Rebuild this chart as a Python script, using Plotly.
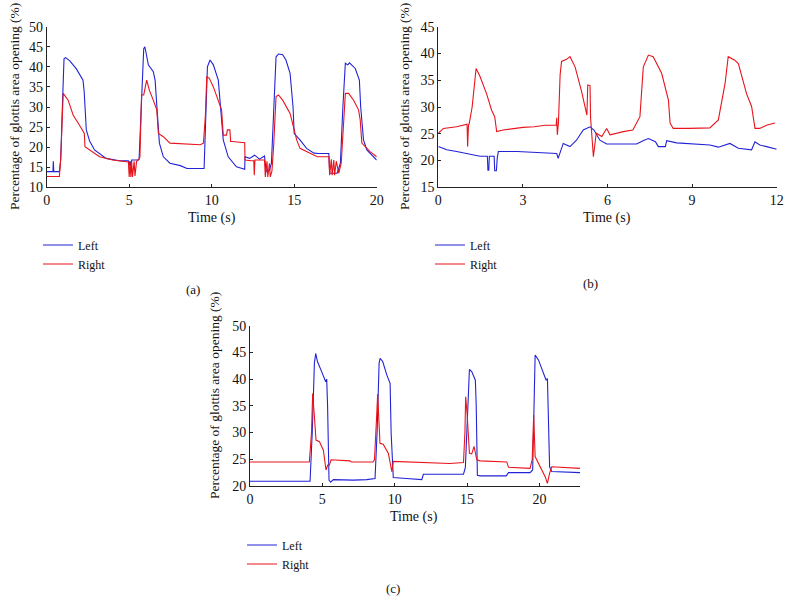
import plotly.graph_objects as go

# ---------------- data ----------------
a_left_t = [
    0.00, 0.38, 0.40, 0.43, 0.77, 0.85, 0.95, 1.05, 1.15, 1.40,
    1.80, 2.20, 2.27, 2.40, 2.60, 2.90, 3.60, 4.40, 4.95, 5.00,
    5.05, 5.10, 5.15, 5.50, 5.60, 5.75, 5.88, 5.95, 6.05, 6.16,
    6.46, 6.57, 6.68, 6.83, 7.07, 7.47, 8.10, 8.50, 9.54, 9.62,
    9.74, 9.90, 10.10, 10.40, 10.55, 10.70, 11.00, 11.50, 12.00, 12.02,
    12.30, 12.60, 12.90, 13.20, 13.30, 13.50, 13.62, 13.75, 13.90, 14.05,
    14.30, 14.50, 14.75, 14.93, 15.00, 15.35, 15.75, 16.20, 16.50, 17.10,
    17.15, 17.60, 17.80, 17.95, 18.10, 18.25, 18.35, 18.70, 18.95, 19.03,
    19.20, 19.40, 19.80, 20.00]
a_left_v = [
    13.9, 13.9, 16.5, 13.9, 13.9, 17.0, 30.0, 42.0, 42.3, 41.5,
    39.5, 36.7, 34.0, 24.3, 21.5, 19.3, 17.2, 16.6, 16.6, 15.5,
    16.5, 15.2, 16.8, 16.8, 17.0, 30.0, 44.5, 45.0, 43.0, 40.5,
    38.8, 36.7, 30.0, 21.0, 17.6, 16.0, 15.4, 14.7, 14.7, 25.0,
    40.0, 41.7, 40.5, 36.7, 30.0, 21.8, 17.6, 15.1, 14.5, 17.6,
    17.2, 18.0, 17.0, 17.8, 14.0, 14.2, 16.0, 30.0, 42.5, 43.2,
    43.0, 41.7, 38.4, 30.0, 23.4, 21.8, 19.7, 18.5, 18.4, 18.4,
    13.5, 13.5, 16.0, 30.0, 40.9, 40.5, 41.0, 39.6, 36.7, 30.0,
    21.8, 19.3, 17.6, 16.8]

a_right_t = [
    0.00, 0.77, 0.85, 1.00, 1.30, 1.60, 2.10, 2.28, 2.32, 2.55,
    3.20, 4.00, 4.95, 5.00, 5.05, 5.10, 5.15, 5.20, 5.30, 5.35,
    5.45, 5.55, 5.65, 5.75, 5.88, 6.06, 6.22, 6.46, 6.67, 6.77,
    7.07, 7.47, 8.10, 9.30, 9.50, 9.62, 9.70, 9.85, 10.10, 10.40,
    10.60, 10.70, 10.90, 10.95, 11.10, 11.15, 11.25, 12.00, 12.02, 12.40,
    12.55, 12.58, 12.62, 13.20, 13.25, 13.35, 13.40, 13.50, 13.55, 13.65,
    13.75, 13.90, 14.05, 14.30, 14.75, 14.95, 15.15, 15.35, 16.00, 16.40,
    17.10, 17.15, 17.25, 17.30, 17.40, 17.45, 17.55, 17.70, 17.85, 18.10,
    18.30, 18.60, 18.90, 19.00, 19.10, 19.30, 19.60, 20.00]
a_right_v = [
    12.7, 12.7, 17.0, 33.4, 31.7, 28.0, 24.7, 23.4, 20.1, 19.5,
    17.6, 16.8, 16.3, 12.6, 16.3, 12.6, 16.5, 12.6, 16.5, 12.8,
    16.5, 16.8, 17.5, 33.0, 33.0, 36.7, 34.2, 31.7, 29.3, 23.4,
    22.6, 21.0, 20.8, 20.6, 21.0, 28.0, 37.5, 37.2, 35.0, 31.7,
    29.3, 23.0, 23.0, 24.3, 24.3, 21.4, 21.4, 21.1, 16.8, 16.6,
    16.6, 13.0, 16.8, 16.8, 12.6, 16.5, 12.6, 16.0, 12.6, 14.0,
    20.0, 32.6, 33.0, 31.7, 28.4, 25.1, 21.8, 19.7, 18.5, 17.6,
    17.6, 13.0, 17.0, 13.0, 16.8, 13.0, 16.5, 13.5, 16.0, 33.4,
    33.4, 31.7, 29.3, 26.8, 21.0, 20.1, 18.9, 17.6]

b_left_t = [
    0.00, 0.30, 0.65, 1.12, 1.48, 1.74, 1.76, 1.79, 1.81, 1.90,
    1.98, 2.00, 2.06, 2.09, 2.13, 2.80, 3.60, 4.20, 4.25, 4.43,
    4.67, 4.90, 5.14, 5.38, 5.52, 5.73, 5.97, 7.03, 7.30, 7.45,
    7.70, 7.80, 8.05, 8.10, 8.45, 8.92, 9.63, 9.93, 10.34, 10.64,
    11.11, 11.23, 11.40, 11.64, 12.00]
b_left_v = [
    22.6, 22.0, 21.7, 21.2, 20.8, 20.8, 18.2, 18.2, 20.8, 20.8,
    20.8, 18.1, 18.1, 20.5, 21.7, 21.7, 21.5, 21.3, 20.4, 23.2,
    22.6, 23.8, 25.7, 26.3, 25.7, 23.8, 23.1, 23.1, 23.8, 24.1,
    23.5, 22.6, 22.6, 23.7, 23.3, 23.1, 22.9, 22.5, 23.2, 22.3,
    22.0, 23.5, 22.9, 22.6, 22.1]

b_right_t = [
    0.00, 0.18, 0.65, 0.95, 1.02, 1.04, 1.07, 1.10, 1.20, 1.34,
    1.48, 1.71, 1.89, 2.00, 2.07, 2.30, 2.60, 3.00, 3.40, 3.80,
    4.08, 4.18, 4.20, 4.22, 4.26, 4.32, 4.37, 4.55, 4.67, 4.85,
    5.08, 5.24, 5.27, 5.30, 5.38, 5.40, 5.50, 5.60, 5.80, 5.97,
    6.09, 6.56, 6.90, 7.15, 7.27, 7.45, 7.62, 7.92, 8.16, 8.22,
    8.33, 8.90, 9.63, 9.93, 10.17, 10.28, 10.50, 10.64, 10.76, 10.93,
    11.11, 11.23, 11.40, 11.64, 11.94]
b_right_v = [
    25.1, 26.0, 26.3, 26.6, 26.8, 22.6, 26.6, 27.0, 30.0, 37.2,
    35.7, 32.5, 29.4, 28.2, 25.4, 25.7, 25.9, 26.2, 26.3, 26.6,
    26.6, 26.6, 28.0, 24.8, 27.0, 36.0, 38.5, 38.9, 39.4, 37.5,
    32.9, 28.8, 28.5, 34.1, 34.0, 28.0, 20.7, 25.1, 24.5, 26.0,
    24.8, 25.4, 25.7, 28.2, 37.5, 39.7, 39.4, 36.3, 31.3, 27.0,
    26.0, 26.0, 26.1, 27.6, 34.4, 39.4, 38.8, 38.1, 35.7, 32.5,
    30.1, 26.0, 26.0, 26.6, 27.0]

c_left_t = [
    0.00, 4.15, 4.30, 4.45, 4.54, 4.66, 4.95, 5.23, 5.30, 5.36,
    5.46, 5.57, 5.76, 7.14, 8.06, 8.64, 8.78, 8.92, 8.99, 9.17,
    9.45, 9.63, 9.68, 9.75, 9.90, 10.80, 11.87, 11.98, 14.75, 14.88,
    15.00, 15.16, 15.32, 15.48, 15.57, 15.63, 15.71, 15.90, 17.70, 17.86,
    19.35, 19.53, 19.62, 19.70, 19.93, 20.28, 20.46, 20.55, 20.62, 20.70,
    20.85, 22.80]
c_left_v = [
    20.9, 20.9, 30.0, 43.0, 44.8, 43.3, 41.4, 39.5, 40.0, 35.0,
    21.1, 20.7, 21.2, 21.1, 21.2, 21.4, 30.0, 43.0, 43.9, 43.3,
    40.8, 39.5, 39.2, 30.0, 21.6, 21.4, 21.2, 22.2, 22.2, 23.5,
    32.0, 41.8, 41.4, 40.1, 39.8, 35.0, 22.0, 21.9, 21.9, 22.5,
    22.5, 23.0, 35.0, 44.5, 43.6, 41.1, 39.8, 40.1, 30.0, 23.6,
    22.7, 22.5]

c_right_t = [
    0.00, 4.10, 4.25, 4.33, 4.45, 4.56, 4.80, 5.07, 5.25, 5.37,
    5.48, 5.60, 6.90, 7.00, 8.50, 8.60, 8.75, 8.82, 8.98, 9.20,
    9.56, 9.80, 9.90, 10.80, 11.87, 13.80, 14.75, 14.85, 14.90, 15.00,
    15.16, 15.32, 15.48, 15.67, 15.90, 17.74, 17.86, 19.35, 19.50, 19.60,
    19.70, 20.05, 20.40, 20.55, 20.70, 20.85, 21.65, 22.80]
c_right_v = [
    24.5, 24.5, 30.0, 37.3, 33.0, 28.6, 28.3, 26.7, 23.0, 23.9,
    23.9, 24.9, 24.7, 24.5, 24.5, 24.9, 33.0, 37.2, 28.0, 27.8,
    26.1, 22.7, 24.6, 24.5, 24.4, 24.2, 24.4, 30.0, 36.7, 33.5,
    26.1, 26.0, 27.4, 24.9, 24.7, 24.5, 23.5, 23.3, 25.0, 33.3,
    25.5, 23.6, 21.7, 20.5, 22.4, 23.6, 23.5, 23.3]

series_names = ["Left", "Right"]
panel_labels = ["(a)", "(b)", "(c)"]
x_title = "Time (s)"
y_title = "Percentage of glottis area opening (%)"

a_xticks = [0, 5, 10, 15, 20]
a_yticks = [10, 15, 20, 25, 30, 35, 40, 45, 50]
b_xticks = [0, 3, 6, 9, 12]
b_yticks = [15, 20, 25, 30, 35, 40, 45]
c_xticks = [0, 5, 10, 15, 20]
c_yticks = [20, 25, 30, 35, 40, 45, 50]

# ---------------- styling / layout ----------------
BLUE = "#2222d6"
RED = "#e8141c"
FONT = "Liberation Serif"
W, H = 792, 614

def px_x(p):
    return p / W

def px_y(p):
    return 1 - p / H

fig = go.Figure()

panels = [
    ("x", "y", "legend", a_left_t, a_left_v, a_right_t, a_right_v),
    ("x2", "y2", "legend2", b_left_t, b_left_v, b_right_t, b_right_v),
    ("x3", "y3", "legend3", c_left_t, c_left_v, c_right_t, c_right_v),
]
for xa, ya, lg, lt, lv, rt, rv in panels:
    fig.add_trace(go.Scatter(x=lt, y=lv, mode="lines", name=series_names[0],
                             line=dict(color=BLUE, width=1.1), xaxis=xa, yaxis=ya, legend=lg))
    fig.add_trace(go.Scatter(x=rt, y=rv, mode="lines", name=series_names[1],
                             line=dict(color=RED, width=1.1), xaxis=xa, yaxis=ya, legend=lg))

axis_common = dict(showline=True, linecolor="#222222", linewidth=1, ticks="inside",
                   ticklen=3, tickcolor="#222222", showgrid=False, zeroline=False,
                   automargin=False,
                   tickfont=dict(family=FONT, size=14, color="#111111"), mirror=False)

# pixel boxes of plot areas
boxes = {
    "a": (46.7, 376.7, 26.7, 187.3),
    "b": (438.3, 776.7, 26.7, 187.3),
    "c": (250.0, 580.0, 325.7, 486.0),
}

def dom(box):
    x0, x1, y0, y1 = box
    return [px_x(x0), px_x(x1)], [px_y(y1), px_y(y0)]

adx, ady = dom(boxes["a"])
bdx, bdy = dom(boxes["b"])
cdx, cdy = dom(boxes["c"])

fig.update_layout(
    template="none",
    width=W, height=H,
    margin=dict(l=0, r=0, t=0, b=0, autoexpand=False),
    paper_bgcolor="white", plot_bgcolor="white",
    font=dict(family=FONT, size=13, color="#111111"),
    xaxis=dict(domain=adx, range=[0, 20], tickvals=a_xticks, anchor="y", **axis_common),
    yaxis=dict(domain=ady, range=[10, 50], tickvals=a_yticks, anchor="x", **axis_common),
    xaxis2=dict(domain=bdx, range=[0, 12], tickvals=b_xticks, anchor="y2", **axis_common),
    yaxis2=dict(domain=bdy, range=[15, 45], tickvals=b_yticks, anchor="x2", **axis_common),
    xaxis3=dict(domain=cdx, range=[0, 22.8], tickvals=c_xticks, anchor="y3", **axis_common),
    yaxis3=dict(domain=cdy, range=[20, 50], tickvals=c_yticks, anchor="x3", **axis_common),
)

leg_common = dict(xanchor="left", yanchor="top", bgcolor="rgba(0,0,0,0)",
                  font=dict(family=FONT, size=12, color="#111111"),
                  tracegroupgap=0, itemwidth=30, borderwidth=0)
fig.update_layout(
    legend=dict(x=px_x(38), y=px_y(230.5), **leg_common),
    legend2=dict(x=px_x(430), y=px_y(230.5), **leg_common),
    legend3=dict(x=px_x(242), y=px_y(530.5), **leg_common),
    showlegend=True,
)

annotations = []
# y titles
for cx, cy in [(15, 107), (405, 107), (215, 396)]:
    annotations.append(dict(text=y_title, x=px_x(cx), y=px_y(cy), xref="paper", yref="paper",
                            textangle=-90, showarrow=False, xanchor="center", yanchor="middle",
                            font=dict(family=FONT, size=13.5)))
# x titles
for cx, cy in [(212, 218), (607, 218), (414, 517)]:
    annotations.append(dict(text=x_title, x=px_x(cx), y=px_y(cy), xref="paper", yref="paper",
                            showarrow=False, xanchor="center", yanchor="middle",
                            font=dict(family=FONT, size=14)))
# panel labels
for lab, (cx, cy) in zip(panel_labels, [(193, 289), (590, 283), (393, 588)]):
    annotations.append(dict(text=lab, x=px_x(cx), y=px_y(cy), xref="paper", yref="paper",
                            showarrow=False, xanchor="center", yanchor="middle",
                            font=dict(family=FONT, size=13)))
fig.update_layout(annotations=annotations)

fig.write_html("out.html", config={"displayModeBar": False},
               post_script="document.body.style.margin='0px';")
